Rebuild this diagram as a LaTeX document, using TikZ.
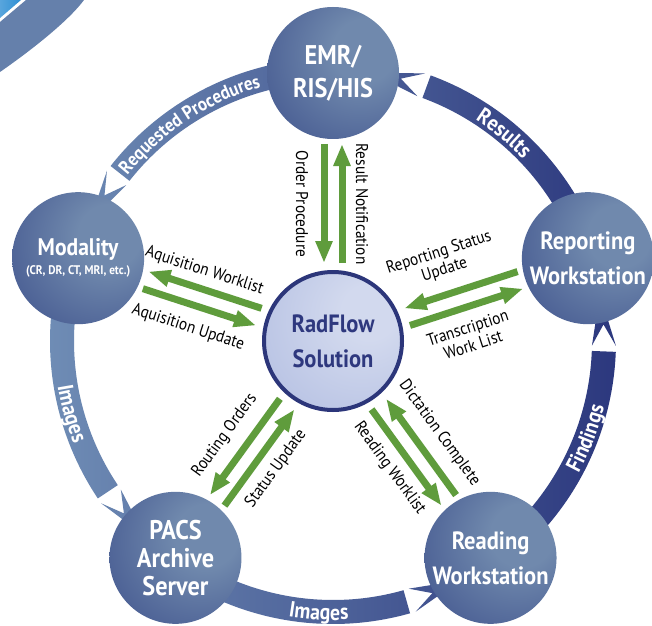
\documentclass[tikz,border=0pt]{standalone}
\usepackage{fontspec}
\setmainfont{PT Sans}[FakeStretch=0.9]
\usetikzlibrary{calc,arrows.meta,decorations.text}
\pgfdeclarelayer{background}
\pgfsetlayers{background,main}
\definecolor{ggreen}{RGB}{95,156,60}
\definecolor{nlight}{RGB}{112,137,173}
\definecolor{nmid}{RGB}{70,90,145}
\definecolor{ndark}{RGB}{43,52,117}
\definecolor{bandL}{RGB}{112,142,182}
\definecolor{bandR}{RGB}{44,56,126}
\definecolor{cLight}{RGB}{210,217,238}
\definecolor{cDark}{RGB}{160,174,218}
\definecolor{hubline}{RGB}{44,54,122}
\definecolor{hubtext}{RGB}{46,56,126}
\definecolor{steel}{RGB}{101,128,171}
\definecolor{cornerblue}{RGB}{46,143,212}
\pgfdeclareradialshading{nodeshade}{\pgfpoint{14bp}{10bp}}{color(0bp)=(nlight); color(12bp)=(nlight); color(40bp)=(nmid); color(62bp)=(ndark); color(80bp)=(ndark)}
\pgfdeclareradialshading{centershade}{\pgfpoint{15bp}{12bp}}{color(0bp)=(cLight); color(10bp)=(cLight); color(65bp)=(cDark); color(80bp)=(cDark)}
\newcommand\bandfont{\bfseries\fontsize{19}{21}\selectfont}
\newcommand\bandfontL{\bfseries\fontsize{22}{24}\selectfont}
\tikzset{
  bignode/.style={circle, minimum size=132pt, inner sep=0pt, shading=nodeshade, text=white, align=center, font=\bfseries\fontsize{25}{35}\selectfont},
  hubnode/.style={circle, minimum size=138pt, inner sep=0pt, shading=centershade, draw=hubline, line width=4pt, text=hubtext, align=center, font=\bfseries\fontsize{25}{35}\selectfont},
  garrow/.style={draw=ggreen, line width=7pt, -{Triangle[length=22pt,width=16pt]}},
  glabel/.style={text=black, align=center, inner sep=0pt, font=\fontsize{17}{18}\selectfont},
  bandtext/.style={decorate, decoration={text along path, text align=center, text color=white}}
}
\begin{document}
\begin{tikzpicture}[x=1pt,y=1pt]
\useasboundingbox (0,0) rectangle (652,625);
\begin{pgfonlayer}{background}
  \fill[white] (0,0) rectangle (652,625);
  % corner decoration
  \shade[left color=cornerblue!80!white, right color=cornerblue] (0,625) -- (21,625) -- (0,607) -- cycle;
  \fill[steel] (26,625) -- (84,625) .. controls (70,606) and (36,578) .. (0,553) -- (0,603) -- cycle;
  \begin{scope}[shift={(333,284)}]
    % ring band with arrow heads
    \shade[left color=bandL, right color=bandR]
      \foreach \s [evaluate=\s as \e using \s+51.8,
                   evaluate=\s as \hb using \s+53,
                   evaluate=\s as \nt using \s+57.5,
                   evaluate=\s as \tp using \s+64] in {18,90,162,234,306} {
        (\s:283pt) arc[start angle=\s, end angle=\e, radius=283pt]
        -- (\e:259pt) arc[start angle=\e, end angle=\s, radius=259pt] -- cycle
        (\hb:283pt) -- (\tp:271pt) -- (\hb:259pt) -- (\nt:271pt) -- cycle
      };
    % band texts
    \path[bandtext, decoration={text={|\bandfont|Requested Procedures}}]
      (148:264pt) arc[start angle=148, end angle=99, radius=264pt];
    \path[bandtext, decoration={text={|\bandfontL|Results}}]
      (68:263pt) arc[start angle=68, end angle=33, radius=263pt];
    \path[bandtext, decoration={text={|\bandfontL|Images}}]
      (181:279pt) arc[start angle=181, end angle=210, radius=279pt];
    \path[bandtext, decoration={text={|\bandfontL|Images}}]
      (253:279pt) arc[start angle=253, end angle=281, radius=279pt];
    \path[bandtext, decoration={text={|\bandfontL|Findings}}]
      (324:279pt) arc[start angle=324, end angle=354, radius=279pt];
  \end{scope}
\end{pgfonlayer}
% nodes
\node[hubnode] (rf) at (333,284) {RadFlow\\Solution};
\node[bignode, font=\bfseries\fontsize{27}{33}\selectfont] (emr) at ($(rf.center)+(90:268pt)$) {EMR/\\RIS/HIS};
\node[bignode, font=\bfseries\fontsize{24}{24}\selectfont] (mod) at ($(rf.center)+(162:268pt)$) {Modality\\[-5pt]{\fontsize{12.5}{14}\selectfont (CR, DR, CT, MRI, etc.)}};
\node[bignode, font=\bfseries\fontsize{27}{28}\selectfont] (pacs) at ($(rf.center)+(234:268pt)$) {PACS\\Archive\\Server};
\node[bignode] (read) at ($(rf.center)+(306:268pt)$) {Reading\\Workstation};
\node[bignode] (rep) at ($(rf.center)+(18:268pt)$) {Reporting\\Workstation};
% green arrows: + side points inward, - side points outward
\foreach \n in {emr,mod,pacs,read,rep}{
  \draw[garrow] ($(rf.center)!197pt!(\n.center)!9pt!90:(\n.center)$) -- ($(rf.center)!78pt!(\n.center)!9pt!90:(\n.center)$);
  \draw[garrow] ($(rf.center)!78pt!(\n.center)!9pt!-90:(\n.center)$) -- ($(rf.center)!197pt!(\n.center)!9pt!-90:(\n.center)$);
}
% labels
\node[glabel, rotate=-90] (l1) at ($(rf.center)!137pt!(emr.center)!31pt!90:(emr.center)$) {Order Procedure};
\node[glabel, rotate=-90] (l2) at ($(rf.center)!137pt!(emr.center)!29pt!-90:(emr.center)$) {Result Notification};
\node[glabel, rotate=-18] (l3) at ($(rf.center)!142pt!(mod.center)!32pt!90:(mod.center)$) {Aquisition Update};
\node[glabel, rotate=-18] (l4) at ($(rf.center)!144pt!(mod.center)!27pt!-90:(mod.center)$) {Aquisition Worklist};
\node[glabel, rotate=18] (l5) at ($(rf.center)!128pt!(rep.center)!42pt!90:(rep.center)$) {Reporting Status\\Update};
\node[glabel, rotate=18] (l6) at ($(rf.center)!132pt!(rep.center)!38pt!-90:(rep.center)$) {Transcription\\Work List};
\node[glabel, rotate=54] (l7) at ($(rf.center)!137pt!(pacs.center)!29pt!90:(pacs.center)$) {Status Update};
\node[glabel, rotate=54] (l8) at ($(rf.center)!140pt!(pacs.center)!32pt!-90:(pacs.center)$) {Routing Orders};
\node[glabel, rotate=-54] (l9) at ($(rf.center)!137pt!(read.center)!32pt!90:(read.center)$) {Dictation Complete};
\node[glabel, rotate=-54] (l10) at ($(rf.center)!136pt!(read.center)!29pt!-90:(read.center)$) {Reading Worklist};
\end{tikzpicture}
\end{document}
